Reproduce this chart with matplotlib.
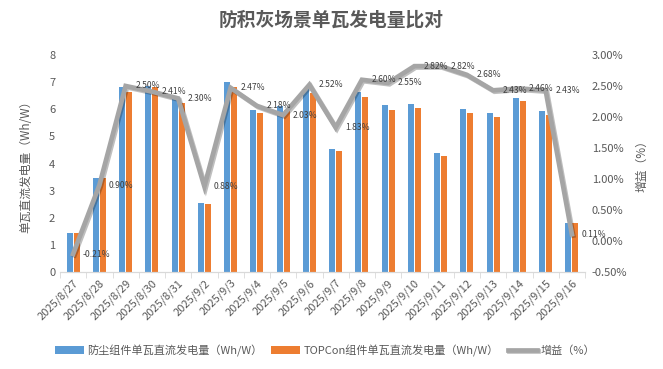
import matplotlib
matplotlib.use("Agg")
import matplotlib.pyplot as plt
import numpy as np
from matplotlib.ticker import FuncFormatter, MultipleLocator
import matplotlib.patheffects as pe

plt.rcParams['font.family'] = ['Noto Sans CJK SC', 'DejaVu Sans']

dates = ["2025/8/27", "2025/8/28", "2025/8/29", "2025/8/30", "2025/8/31", "2025/9/2",
         "2025/9/3", "2025/9/4", "2025/9/5", "2025/9/6", "2025/9/7", "2025/9/8",
         "2025/9/9", "2025/9/10", "2025/9/11", "2025/9/12", "2025/9/13", "2025/9/14",
         "2025/9/15", "2025/9/16"]
dust_proof = [1.44, 3.47, 6.83, 6.86, 6.46, 2.55, 7.00, 5.99, 6.12, 6.73, 4.55, 6.65,
              6.14, 6.20, 4.40, 6.01, 5.87, 6.42, 5.94, 1.82]
topcon = [1.44, 3.47, 6.65, 6.82, 6.24, 2.51, 6.83, 5.87, 5.97, 6.60, 4.47, 6.47,
          5.98, 6.05, 4.29, 5.88, 5.72, 6.29, 5.79, 1.82]
gain = [-0.21, 0.90, 2.50, 2.41, 2.30, 0.88, 2.47, 2.18, 2.03, 2.52, 1.83, 2.60,
        2.55, 2.82, 2.82, 2.68, 2.43, 2.46, 2.43, 0.11]

blue = '#5B9BD5'
orange = '#ED7D31'
gray = '#A5A5A5'
txt = '#595959'

fig = plt.figure(figsize=(6.63, 3.69), dpi=100)
ax = fig.add_axes([60/663, 1-272/369, 525/663, 217/369])
ax2 = ax.twinx()

x = np.arange(len(dates))
w = 0.23
ax.bar(x - w/2 - 0.02, dust_proof, width=w, color=blue, label='防尘组件单瓦直流发电量（Wh/W）', zorder=2)
ax.bar(x + w/2 + 0.02, topcon, width=w, color=orange, label='TOPCon组件单瓦直流发电量（Wh/W）', zorder=2)

ax2.plot(x, gain, color=gray, lw=3.4, solid_joinstyle='miter', label='增益（%）',
         path_effects=[pe.SimpleLineShadow(offset=(1, -1), alpha=0.25), pe.Normal()])
for xi, g in zip(x, gain):
    ax2.annotate(f'{g:.2f}%', (xi, g), xytext=(7, 0), textcoords='offset points',
                 ha='left', va='center', fontsize=6.2, color='#404040')

ax.set_xlim(-0.5, len(dates) - 0.5)
ax.set_ylim(0, 8)
ax.yaxis.set_major_locator(MultipleLocator(1))
ax2.set_ylim(-0.5, 3.0)
ax2.yaxis.set_major_locator(MultipleLocator(0.5))
ax2.yaxis.set_major_formatter(FuncFormatter(lambda v, p: f'{v:.2f}%'))

ax.set_xticks(x)
ax.set_xticklabels(dates, rotation=45, ha='right', rotation_mode='anchor', fontsize=8, color=txt)
ax.set_xticks(np.arange(-0.5, len(dates)), minor=True)
ax.tick_params(axis='x', which='major', length=0, pad=4)
ax.tick_params(axis='x', which='minor', length=4, color='#D9D9D9')
ax.tick_params(axis='y', length=0, labelsize=8, labelcolor=txt)
ax2.tick_params(axis='y', length=0, labelsize=8, labelcolor=txt, pad=5)

for a in (ax, ax2):
    for s in ['top', 'left', 'right']:
        a.spines[s].set_visible(False)
    a.spines['bottom'].set_color('#D9D9D9')

ax.set_ylabel('单瓦直流发电量（Wh/W）', fontsize=8.5, color=txt, labelpad=12)
ax2.set_ylabel('增益（%）', fontsize=8.5, color=txt, rotation=90, labelpad=6)

fig.text(0.5, 0.945, '防积灰场景单瓦发电量比对', ha='center', va='center',
         fontsize=13.5, fontweight='bold', color=txt)

h1, l1 = ax.get_legend_handles_labels()
h2, l2 = ax2.get_legend_handles_labels()
fig.legend(h1 + h2, l1 + l2, loc='center', bbox_to_anchor=(0.49, 0.05), ncol=3,
           frameon=False, fontsize=8, labelcolor=txt, handlelength=2.6,
           handleheight=0.8, columnspacing=0.8, handletextpad=0.3)

fig.savefig('out.png', dpi=100)
